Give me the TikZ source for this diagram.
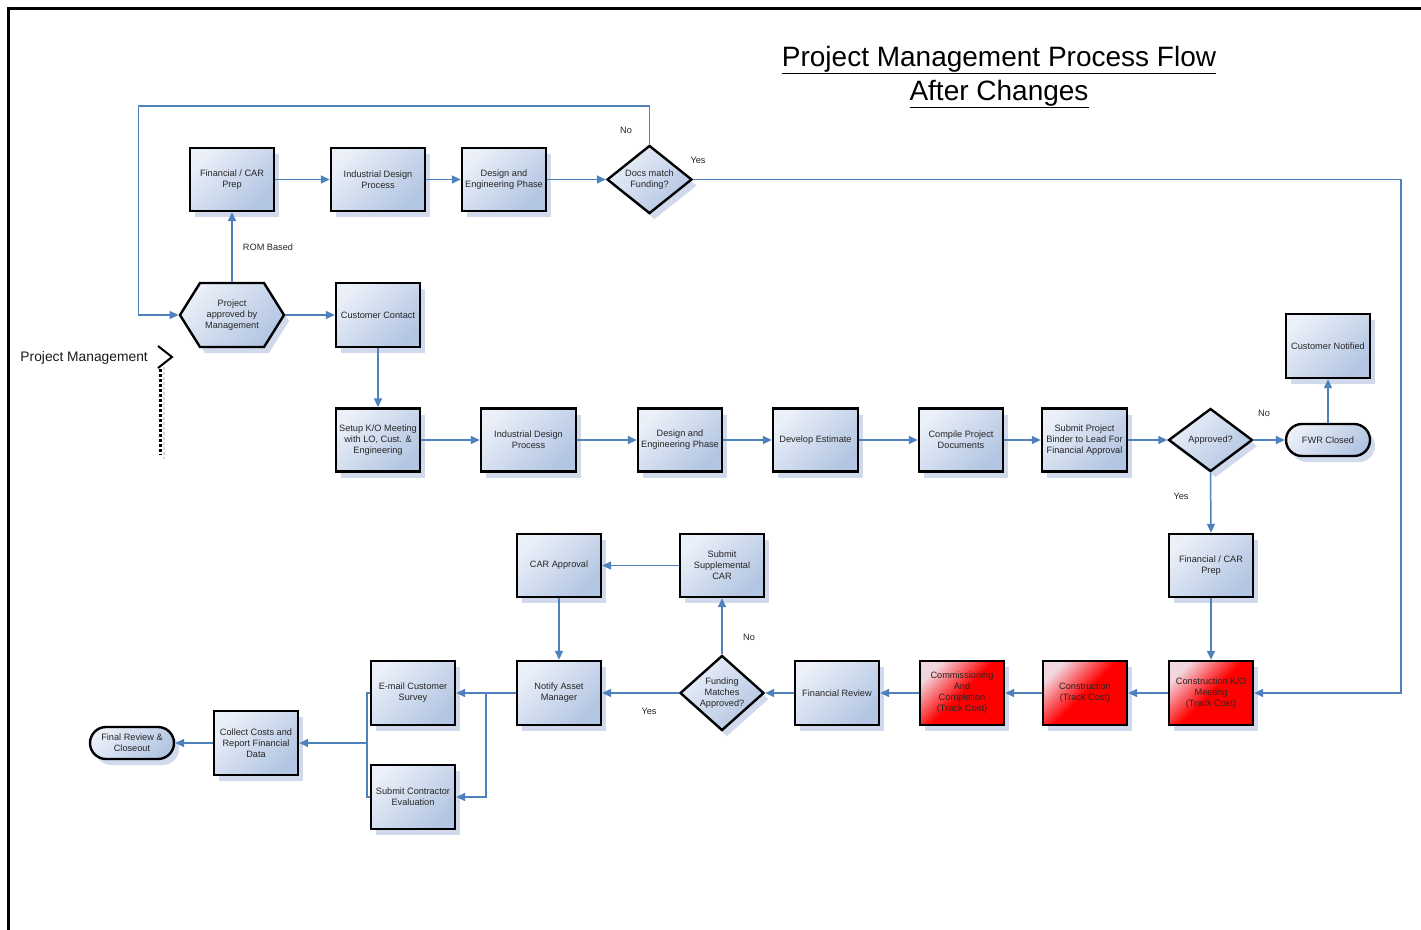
\documentclass[tikz,border=0pt]{standalone}
\usepackage{fontspec}
\setmainfont{Liberation Sans}
\usetikzlibrary{shapes.geometric,shapes.symbols,shadows,arrows.meta,calc}
\definecolor{lnc}{RGB}{79,129,189}
\definecolor{boxl}{RGB}{234,239,248}
\definecolor{boxd}{RGB}{178,197,226}
\definecolor{shadc}{RGB}{208,218,236}
\definecolor{redl}{RGB}{242,214,222}
\tikzset{
 sh/.style={drop shadow={shadow xshift=5pt,shadow yshift=-6pt,fill=shadc,opacity=1}},
 nd/.style={draw=black, line width=2.4pt, text=black!85, align=center, inner sep=1pt,
   font=\fontsize{9.2}{11}\selectfont, sh},
 blueshade/.style={top color=boxl, bottom color=boxd, shading angle=45},
 redshade/.style={top color=redl, bottom color=red, middle color=red, shading angle=45},
 proc/.style={nd, rectangle, minimum width=84pt, minimum height=63pt, blueshade},
 redproc/.style={nd, rectangle, minimum width=84pt, minimum height=63pt, redshade},
 dec/.style={nd, diamond, minimum width=85pt, minimum height=63pt, inner sep=0pt, blueshade},
 term/.style={nd, rectangle, rounded corners=16pt, minimum width=84pt, minimum height=32pt, blueshade},
 hexa/.style={nd, signal, signal to=west and east, signal pointer angle=116,
   minimum width=104pt, minimum height=64pt, inner sep=0pt, blueshade},
 conn/.style={draw=lnc, line width=1.5pt, -{Triangle[length=9pt,width=8pt]}},
 lnk/.style={draw=lnc, line width=1.5pt},
 lbl/.style={font=\fontsize{9.2}{11}\selectfont, text=black!85, inner sep=0pt},
}
\begin{document}
\begin{tikzpicture}[x=1pt,y=-1pt]
\useasboundingbox (0,0) rectangle (1421,929);
% frame
\draw[line width=2.2pt] (8.5,935) -- (8.5,8.5) -- (1430,8.5);
% title
\node[font=\fontsize{28}{34}\selectfont, anchor=base, inner sep=0pt] (t1) at (999,66) {\underline{Project Management Process Flow}};
\node[font=\fontsize{28}{34}\selectfont, anchor=base, inner sep=0pt] (t2) at (999,100) {\underline{After Changes}};
% side label
\node[font=\fontsize{13.8}{16}\selectfont, anchor=east, inner sep=0pt, text=black!90] (pm) at (148,357.5) {Project Management};
\draw[shadc, line width=2.4pt, dash pattern=on 2.5pt off 2.5pt] (164,362) -- (164,459);
\draw[line width=2pt] (158,346) -- (172,357) -- (158,368);
\draw[line width=3pt, dash pattern=on 3pt off 2pt] (160,369) -- (160,455);
% top row
\node[proc] (fin1) at (232,179.5) {Financial / CAR\\Prep};
\node[proc, minimum width=94pt] (ind1) at (378,179.5) {Industrial Design\\Process};
\node[proc] (des1) at (504,179.5) {Design and\\Engineering Phase};
\node[dec] (docs) at (649.5,179.5) {Docs match\\Funding?};
\node[hexa] (hex) at (232,315) {Project\\approved by\\Management};
\node[proc, minimum height=64pt] (cust) at (378,315) {Customer Contact};
% second row
\node[proc] (setup) at (378,440) {Setup K/O Meeting\\with LO, Cust. \&\\Engineering};
\node[proc, minimum width=95pt] (ind2) at (528.5,440) {Industrial Design\\Process};
\node[proc] (des2) at (680,440) {Design and\\Engineering Phase};
\node[proc, minimum width=85pt] (dev) at (815.5,440) {Develop Estimate};
\node[proc] (comp) at (961,440) {Compile Project\\Documents};
\node[proc, minimum width=85pt] (subm) at (1084.5,440) {Submit Project\\Binder to Lead For\\Financial Approval};
\node[dec, minimum width=84pt] (appr) at (1210.5,440) {Approved?};
\node[term] (fwr) at (1328,440) {FWR Closed};
\node[proc, minimum height=64pt] (cnot) at (1328,346) {Customer Notified};
% third row
\node[proc] (fin2) at (1211,565.5) {Financial / CAR\\Prep};
\node[redproc, minimum height=64pt] (cko) at (1211,693) {Construction K/O\\Meeting\\(Track Cost)};
\node[redproc, minimum height=64pt] (cons) at (1085,693) {Construction\\(Track Cost)};
\node[redproc, minimum height=64pt] (comm) at (962,693) {Commissioning\\And\\Completion\\(Track Cost)};
\node[proc, minimum height=64pt] (frev) at (837,693) {Financial Review};
\node[dec, minimum width=84pt, minimum height=64pt] (fund) at (722,693) {Funding\\Matches\\Approved?};
\node[proc] (supp) at (722,565.5) {Submit\\Supplemental\\CAR};
\node[proc] (car) at (559,565.5) {CAR Approval};
\node[proc, minimum height=64pt] (noti) at (559,693) {Notify Asset\\Manager};
\node[proc, minimum height=64pt] (mail) at (413,693) {E-mail Customer\\Survey};
\node[proc, minimum height=64pt] (contr) at (413,797) {Submit Contractor\\Evaluation};
\node[proc, minimum height=64pt] (coll) at (256,743) {Collect Costs and\\Report Financial\\Data};
\node[term] (fin) at (132,743) {Final Review \&\\Closeout};
% labels
\node[lbl] (lno1) at (626,130) {No};
\node[lbl] (lyes1) at (698,160) {Yes};
\node[lbl] (lrom) at (268,247) {ROM Based};
\node[lbl] (lno2) at (1264,413) {No};
\node[lbl] (lyes2) at (1181,496) {Yes};
\node[lbl] (lno3) at (749,637) {No};
\node[lbl] (lyes3) at (649,711) {Yes};
% connectors top
\draw[conn] (fin1) -- (ind1);
\draw[conn] (ind1) -- (des1);
\draw[conn] (des1) -- (docs);
\draw[conn] (docs.north) -- ++(0,-38) -| ([xshift=-40pt]hex.west) -- (hex.west);
\draw[conn] (docs.east) -| ([xshift=147pt]cko.east) -- (cko.east);
\draw[conn] (hex.north) -- (fin1.south);
\draw[conn] (hex.east) -- (cust.west);
\draw[conn] (cust.south) -- (setup.north);
% second row
\draw[conn] (setup) -- (ind2);
\draw[conn] (ind2) -- (des2);
\draw[conn] (des2) -- (dev);
\draw[conn] (dev) -- (comp);
\draw[conn] (comp) -- (subm);
\draw[conn] (subm) -- (appr);
\draw[conn] (appr.east) -- (fwr.west);
\draw[conn] (fwr.north) -- (cnot.south);
\draw[conn] (appr.south) -- (fin2.north);
\draw[conn] (fin2.south) -- (cko.north);
% third row
\draw[conn] (cko) -- (cons);
\draw[conn] (cons) -- (comm);
\draw[conn] (comm) -- (frev);
\draw[conn] (frev.west) -- (fund.east);
\draw[conn] (fund.north) -- (supp.south);
\draw[conn] (supp) -- (car);
\draw[conn] (car) -- (noti);
\draw[conn] (fund.west) -- (noti.east);
\draw[conn] (noti.west) -- (mail.east);
\draw[conn] ($(noti.west)!0.5!(mail.east)$) |- (contr.east);
\draw[lnk] (mail.west) -- ++(-3,0) |- (contr.west);
\draw[conn] ([xshift=-3pt]mail.west) |- (coll.east);
\draw[conn] (coll.west) -- (fin.east);
\end{tikzpicture}
\end{document}
